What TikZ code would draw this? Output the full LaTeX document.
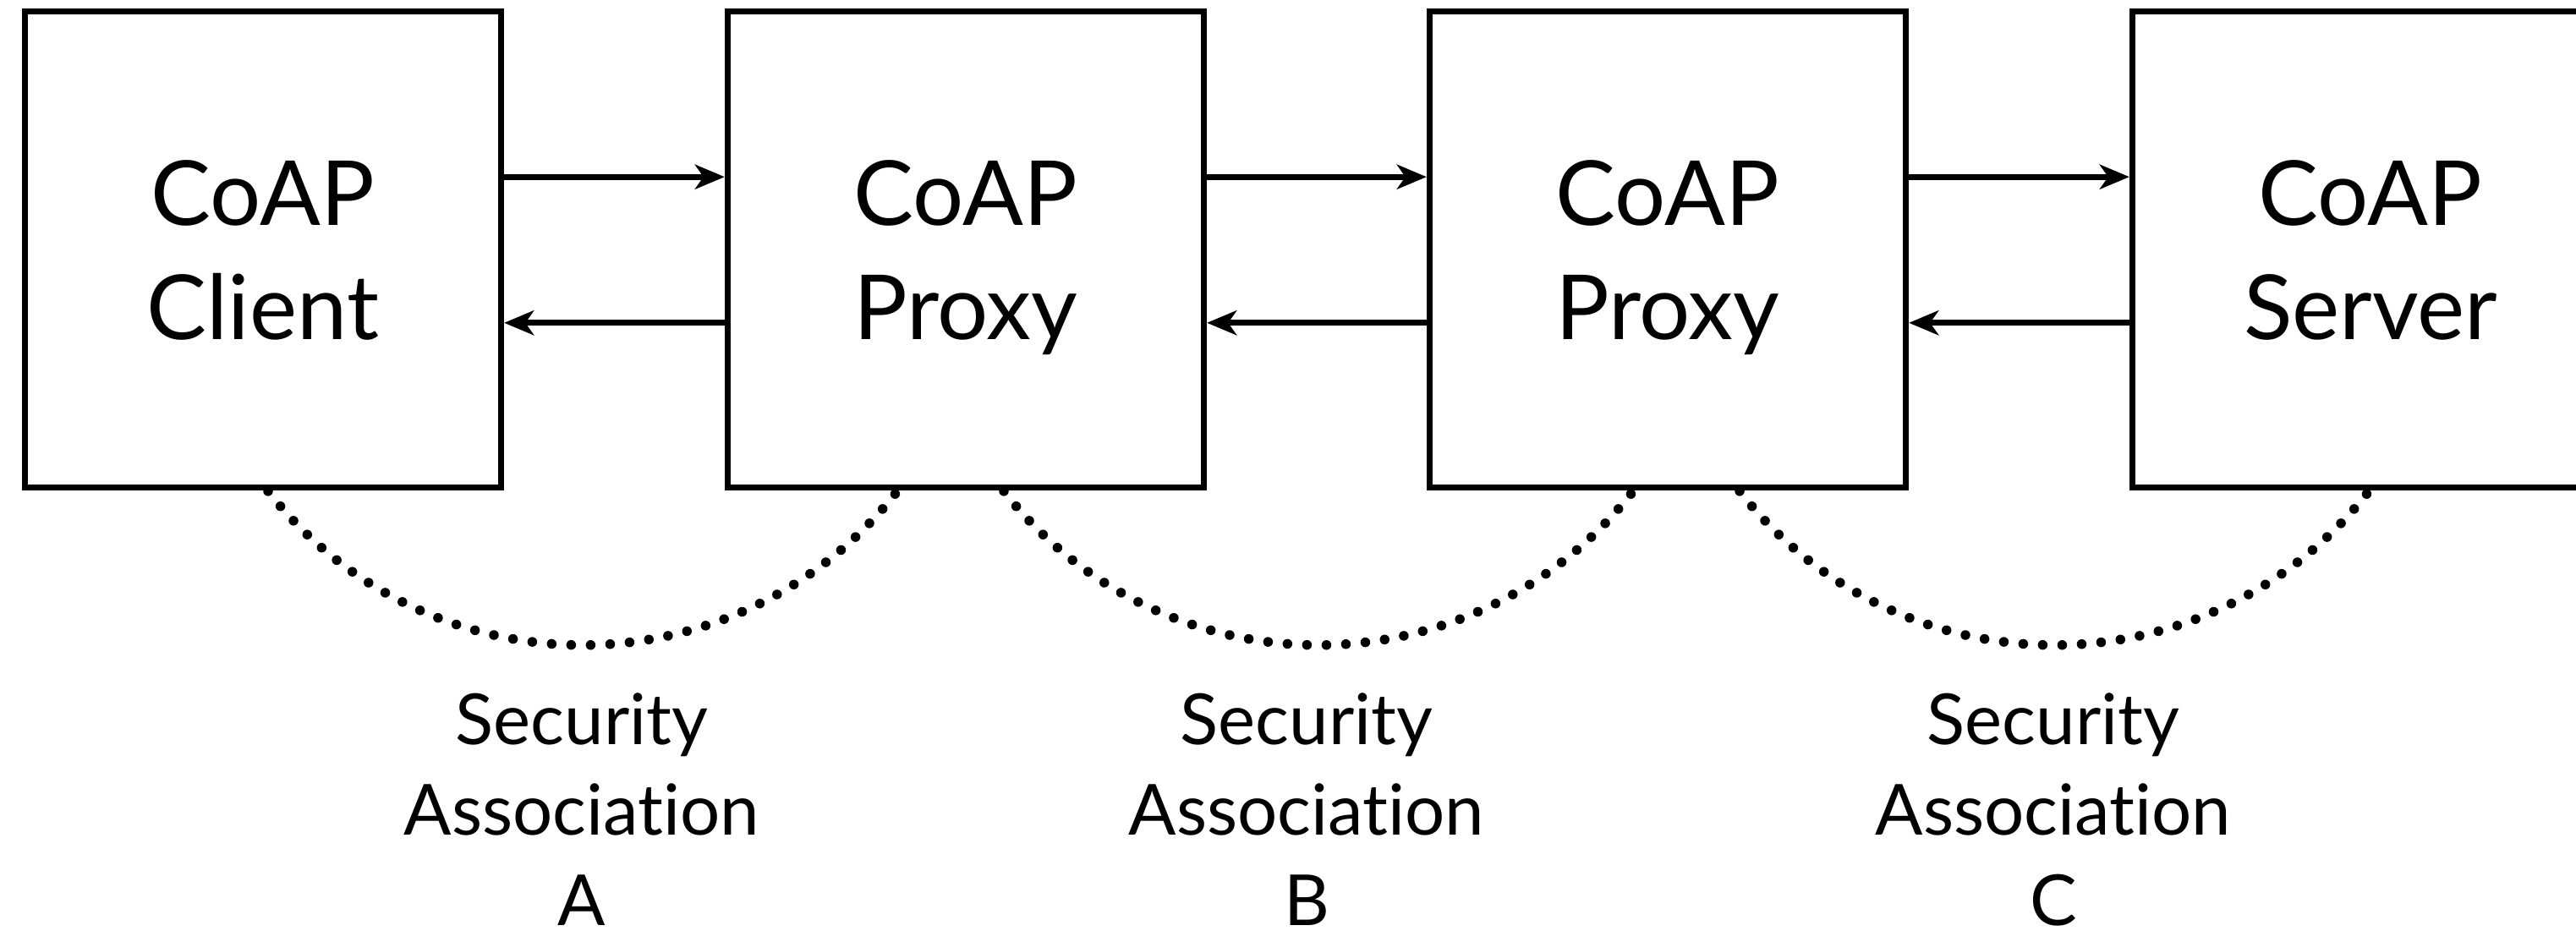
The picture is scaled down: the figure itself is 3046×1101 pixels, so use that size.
\documentclass[tikz,border=0pt]{standalone}
\usepackage{fontspec}
\setmainfont{Lato}[Ligatures={NoCommon,NoRare}]
\usetikzlibrary{arrows.meta,calc}
\begin{document}
\begin{tikzpicture}[x=0.01cm,y=-0.01cm,
  entity/.style={draw, line width=0.07cm, minimum width=5.63cm, minimum height=5.625cm,
    inner sep=0pt, align=center, text depth=0pt,
    font=\fontsize{30.2pt}{38.41pt}\selectfont},
  msg/.style={line width=0.067cm, -{Stealth[length=0.35cm,width=0.29cm,inset=0.1cm]}},
  assoc/.style={line width=0.115cm, line cap=round, dash pattern=on 0pt off 0.2305cm},
  salabel/.style={align=center, inner sep=0pt, anchor=base, text depth=0pt,
    font=\fontsize{23.7pt}{30.36pt}\selectfont}]
\useasboundingbox (0,0) rectangle (3046,1101);

% the four CoAP endpoints
\node[entity] (client) at (311,295.25) {CoAP\\Client};
\node[entity] (proxyA) at (1142,295.25) {CoAP\\Proxy};
\node[entity] (proxyB) at (1972,295.25) {CoAP\\Proxy};
\node[entity] (server) at (2803,295.25) {CoAP\\Server};

% requests (upper) and responses (lower)
\draw[msg] ([yshift=0.86cm]client.east) -- ([yshift=0.86cm]proxyA.west);
\draw[msg] ([yshift=-0.865cm]proxyA.west) -- ([yshift=-0.865cm]client.east);
\draw[msg] ([yshift=0.86cm]proxyA.east) -- ([yshift=0.86cm]proxyB.west);
\draw[msg] ([yshift=-0.865cm]proxyB.west) -- ([yshift=-0.865cm]proxyA.east);
\draw[msg] ([yshift=0.86cm]proxyB.east) -- ([yshift=0.86cm]server.west);
\draw[msg] ([yshift=-0.865cm]server.west) -- ([yshift=-0.865cm]proxyB.east);

% dotted arcs of the security associations
\coordinate (saAstart) at ($(client.south)+(6,0.7)$);
\coordinate (saBstart) at ($(proxyA.south)+(45,0.7)$);
\coordinate (saCstart) at ($(proxyB.south)+(85,0.7)$);
\draw[assoc] (saAstart) arc[start angle=142.14, end angle=37.86, radius=471.2];
\draw[assoc] (saBstart) arc[start angle=142.14, end angle=37.86, radius=471.2];
\draw[assoc] (saCstart) arc[start angle=142.14, end angle=37.86, radius=471.2];

% labels (anchored on the baseline of the last line)
\node[salabel] (labA) at (688,1094) {Security\\Association\\A};
\node[salabel] (labB) at (1545,1094) {Security\\Association\\B};
\node[salabel] (labC) at (2428,1094) {Security\\Association\\C};
\end{tikzpicture}
\end{document}
